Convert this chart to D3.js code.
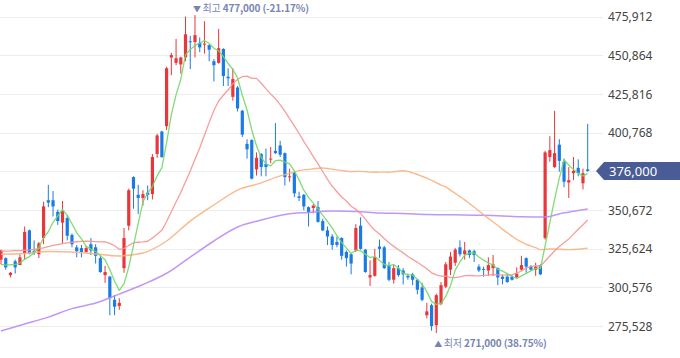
<!DOCTYPE html>
<html><head><meta charset="utf-8">
<script src="https://cdn.jsdelivr.net/npm/d3@7/dist/d3.min.js"></script>
<style>body{margin:0;background:#fff;}svg{display:block;}</style>
</head><body>
<svg id="chart" width="680" height="358"></svg>
<script>
// ---- data (KRW) ----
const opens = [318500,319500,308500,317500,315000,322500,337500,324000,322000,332500,
357000,357000,349500,342500,345500,334500,326500,326000,323500,328500,
326500,319500,308500,307500,292500,288500,313000,340500,372000,360500,
358500,362000,361000,387000,401500,405000,449500,446000,445000,449500,
460000,459500,459000,458000,457500,447000,446000,455000,437000,424000,
430000,415000,393500,396000,377000,387000,380500,383500,389000,392500,
387500,372000,375000,359500,360500,352500,352000,352500,343500,337500,
333500,330000,332500,323500,322000,324500,340500,325000,307000,308000,
327000,326500,315000,305500,313000,311500,308000,309000,305500,300500,
282500,289000,276000,290000,301000,312000,316500,326500,322000,324500,
324000,314000,312500,311500,313000,313000,307500,307500,307500,307000,
312000,319500,314000,312000,315000,332500,385000,378500,393000,382000,
368500,374500,378000,368000,377000];
const highs = [325000,320000,310500,318500,322000,340000,338000,331000,330000,356000,
367000,363000,351000,356500,347500,335500,328000,328000,327500,332500,
328500,321000,314500,308000,295500,293500,339000,364500,372500,367000,
363500,366500,387000,400000,402000,443500,452500,461500,450000,476000,
463500,477000,462500,473000,458000,448500,468000,455500,442500,442500,
431000,415500,396500,396500,388000,387500,390500,391500,407000,395500,
388000,377500,375500,362500,361000,353000,354500,356500,345000,340000,
335000,333500,333000,324500,322500,341500,346000,325500,318000,325500,
331500,327500,317000,315000,315000,313000,309500,310000,306000,303500,
290500,290000,296500,304000,317000,323500,326000,331000,330000,325000,
325000,315500,314000,320000,321500,313500,308500,309500,308500,313500,
321000,320000,315000,316500,315500,389000,398500,415000,396500,384000,
378500,385000,383500,377500,406500];
const lows = [315500,312000,307000,309500,315000,318500,322000,321500,319500,328500,
352500,346500,341000,329000,331000,326500,320000,320000,323000,321500,
316000,310000,303500,282500,282500,286000,310000,337500,351500,348000,
353500,357000,357500,384500,384500,402500,438000,444500,439000,447000,
442000,449500,453000,452000,447000,434000,445500,431000,431000,421500,
414500,398000,384000,370500,373000,372500,372500,381000,387000,385000,
366500,369000,359000,356500,350500,340000,348500,342500,337000,328000,
325000,326500,318500,314000,309000,323500,325000,310000,301500,307500,
319500,312500,304500,303000,307500,302500,305500,302000,296000,291500,
280500,272500,271000,289000,300000,308500,314500,320500,318500,319500,
317000,310500,307500,308000,308000,302000,302500,303500,305000,306500,
311500,310000,311500,308000,308500,331500,382000,378000,375500,365500,
358500,370000,372500,364000,375500];
const closes = [324500,313500,310000,313500,320000,336500,322500,323000,329000,353000,
355500,353000,343500,350000,334000,328500,324000,323500,326000,324500,
321000,310500,310500,293500,288000,290500,332500,363500,364500,358500,
361000,360500,385000,399000,385000,442500,451000,449000,449500,464500,
459500,464000,456000,458500,454500,444500,455500,437500,436000,435500,
416500,399500,390000,371000,384500,378500,378500,384000,387500,386500,
372000,372500,361500,358500,353000,349000,353500,343000,337500,333500,
328000,328000,321000,319500,316000,339000,325500,310500,308500,320000,
325500,313000,305500,313000,308500,309000,307000,305500,299000,292500,
285000,275500,295500,302000,315500,320500,325000,322000,324500,321500,
321500,311500,312000,315000,315500,307000,306000,304000,305500,309500,
315000,314000,312000,314000,309000,388000,389500,387500,382500,369000,
370000,376000,374500,374500,376000];

// moving-average values before enough closes are on screen
const ma5Lead  = [315500,315000,315200,315500];
const ma20Lead = [324100,324100,324200,324400,324400,324600,324800,325100,325600,326200,
                  327000,327700,328300,328900,329400,329800,330100,330300,330500];
const ma60LeadIdx = [0,5,10,15,20,25,30,35,40,45,50,55];
const ma60Lead    = [322000,322500,323800,323500,322200,320900,322800,330600,343500,353900,363600,368200];
const ma120LeadIdx = [0,5,10,15,20,25,30,35,40,45,50,55,60,65,70,75,80,85,90,95,100,105,110,115];
const ma120Lead    = [272300,276800,281300,286800,290400,296200,302400,309700,320200,330600,339700,344200,
                      347800,349100,350000,349700,348700,348400,347800,347600,347300,347000,346300,346100];

const tickValues = [275528,300576,325624,350672,375720,400768,425816,450864,475912];
const lastPrice = 376000;
const highPrice = 477000, highIdx = 41;
const lowPrice = 271000, lowIdx = 92;

// ---- drawing ----
const svg = d3.select("#chart");
const n = closes.length;
const idx = d3.range(n);
const x = d3.scaleLinear().domain([0, n - 1]).range([1, 587.7]);
const y = d3.scaleLinear().domain([275528, 475912]).range([326, 16.7]);

const UP = "#e8363a", DOWN = "#1a7be6";
const fmt = d3.format(",");
const yl = y(lastPrice);

// grid
svg.append("g").selectAll("line").data(tickValues).join("line")
  .attr("x1", 0).attr("x2", 603)
  .attr("y1", d => Math.round(y(d)) + 0.5).attr("y2", d => Math.round(y(d)) + 0.5)
  .attr("stroke", "#ededed").attr("stroke-width", 1);

// right axis labels (the one under the current-price tag is hidden, as in the chart)
const axis = d3.axisRight(y).tickValues(tickValues.filter(t => Math.abs(y(t) - yl) > 12))
  .tickSize(0).tickPadding(0).tickFormat(fmt);
const gAxis = svg.append("g").attr("transform", "translate(608,0)").call(axis);
gAxis.select(".domain").remove();
gAxis.selectAll("text").attr("fill", "#444").attr("font-size", 12)
  .attr("font-family", "'Noto Sans', 'Liberation Sans', sans-serif").attr("dy", "0.35em");

// moving averages
function sma(period, lead) {
  return idx.map(i => i < period - 1 ? lead[i] : d3.mean(closes.slice(i - period + 1, i + 1)));
}
const ma5 = sma(5, ma5Lead);
const ma20 = sma(20, ma20Lead);
function longMA(period, leadIdx, lead) {
  const pts = leadIdx.map((k, j) => [k, lead[j]]);
  for (let i = period - 1; i < n; i++) pts.push([i, d3.mean(closes.slice(i - period + 1, i + 1))]);
  return pts;
}
const ma60pts = longMA(60, ma60LeadIdx, ma60Lead);
const ma120pts = longMA(120, ma120LeadIdx, ma120Lead);

// candles
const gC = svg.append("g");
gC.selectAll("line").data(idx).join("line")
  .attr("x1", i => x(i)).attr("x2", i => x(i))
  .attr("y1", i => y(highs[i])).attr("y2", i => y(lows[i]))
  .attr("stroke", i => closes[i] >= opens[i] ? UP : DOWN).attr("stroke-width", 1);
gC.selectAll("rect").data(idx).join("rect")
  .attr("x", i => x(i) - 1.6).attr("width", 3.2)
  .attr("y", i => y(Math.max(opens[i], closes[i])))
  .attr("height", i => Math.max(1, Math.abs(y(opens[i]) - y(closes[i]))))
  .attr("fill", i => closes[i] >= opens[i] ? UP : DOWN);

function drawLine(pts, color, w, curve) {
  svg.append("path").datum(pts)
    .attr("d", d3.line().x(d => x(d[0])).y(d => y(d[1])).curve(curve))
    .attr("fill", "none").attr("stroke", color).attr("stroke-width", w)
    .attr("stroke-linejoin", "round").attr("opacity", 0.9);
}
drawLine(ma120pts, "#b98cf6", 1.5, d3.curveMonotoneX);
drawLine(ma60pts, "#f8b37e", 1.4, d3.curveMonotoneX);
drawLine(idx.map(i => [i, ma20[i]]), "#f79292", 1.3, d3.curveLinear);
drawLine(idx.map(i => [i, ma5[i]]), "#72d866", 1.3, d3.curveLinear);

// high / low markers
const labelColor = "#7885b3";
function marker(i, price, tri, label, yb) {
  const pct = (lastPrice / price - 1) * 100;
  const t = svg.append("text").attr("x", x(i) - 2).attr("y", yb)
    .attr("font-family", "'Noto Sans CJK KR', sans-serif").attr("font-size", 10)
    .attr("letter-spacing", -0.15).attr("fill", labelColor);
  t.append("tspan").attr("font-size", 8).text(tri + " ");
  t.append("tspan").text(label + " ");
  t.append("tspan").attr("font-weight", "bold")
    .text(fmt(price) + " (" + pct.toFixed(2) + "%)");
}
marker(highIdx, highPrice, "▼", "최고", 12);
marker(lowIdx, lowPrice, "▲", "최저", 347);

// current price tag
svg.append("path")
  .attr("d", `M596,${yl} L604,${yl - 9} H680 V${yl + 9} H604 Z`)
  .attr("fill", "#4a5c96");
svg.append("text").attr("x", 609).attr("y", yl).attr("dy", "0.36em")
  .attr("fill", "#fff").attr("font-size", 13)
  .attr("font-family", "'Noto Sans', 'Liberation Sans', sans-serif")
  .text(fmt(lastPrice));
</script>
</body></html>
